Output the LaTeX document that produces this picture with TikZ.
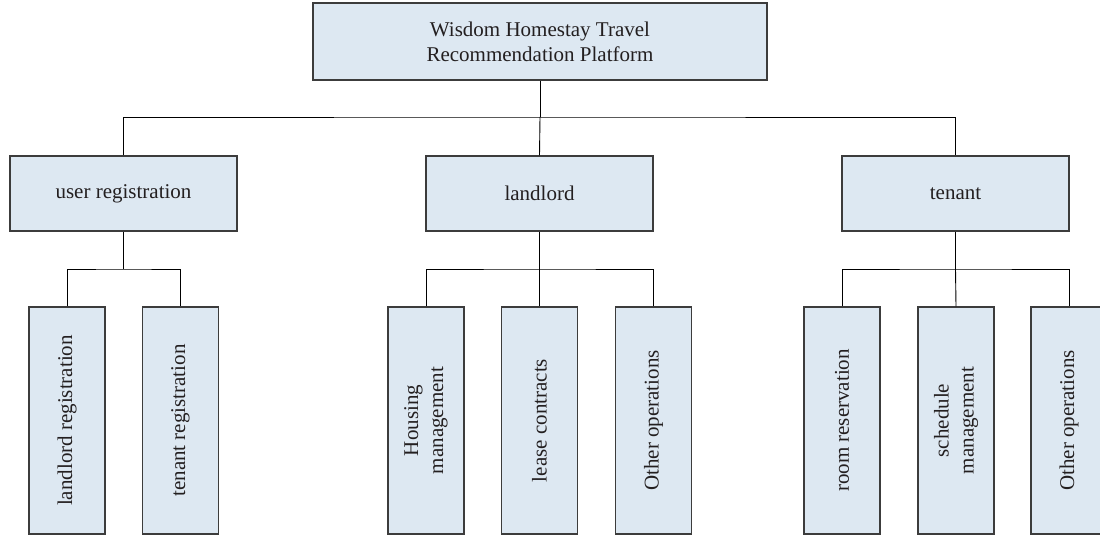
\documentclass[tikz,border=0pt]{standalone}
\usepackage{fontspec}
\setmainfont{Liberation Serif}
\definecolor{boxfill}{RGB}{221,232,242}
\definecolor{boxline}{RGB}{60,60,60}
\definecolor{txt}{RGB}{35,31,32}
\begin{document}
\begin{tikzpicture}[x=1pt,y=-1pt,
  font=\fontsize{21}{25}\selectfont,
  box/.style={draw=boxline,line width=1.2pt,fill=boxfill,text=txt,
    inner sep=0pt,align=center},
  topbox/.style={box,minimum width=454pt,minimum height=77pt},
  midbox/.style={box,minimum width=227pt,minimum height=75pt},
  leafbox/.style={box,minimum width=76pt,minimum height=227pt},
  vtext/.style={rotate=90,align=center,text=txt,inner sep=0pt},
  link/.style={draw=black,line width=0.9pt}]
\clip (0,0) rectangle (1100,537);
\fill[white] (0,0) rectangle (1100,537);

% root
\node[topbox] (root) at (540,41.5) {Wisdom Homestay Travel\\Recommendation Platform};

% second level
\node[midbox] (user) at (123.5,193.5) {user registration};
\node[midbox] (land) at (539.5,193.5) {landlord};
\node[midbox] (ten)  at (955.5,193.5) {tenant};

% leaves
\node[leafbox] (lreg) at (67,420.5) {};
\node[leafbox] (treg) at (180.5,420.5) {};
\node[leafbox] (hous) at (426,420.5) {};
\node[leafbox] (leas) at (539.5,420.5) {};
\node[leafbox] (oth1) at (653.5,420.5) {};
\node[leafbox] (room) at (842,420.5) {};
\node[leafbox] (sche) at (956,420.5) {};
\node[leafbox] (oth2) at (1069,420.5) {};

\node[vtext] at (lreg) {landlord registration};
\node[vtext] at (treg) {tenant registration};
\node[vtext] at (hous) {Housing\\management};
\node[vtext] at (leas) {lease contracts};
\node[vtext] at (oth1) {Other operations};
\node[vtext] at (room) {room reservation};
\node[vtext] at (sche) {schedule\\management};
\node[vtext] at (oth2) {Other operations};

% junction points of the connector buses
\coordinate (j0) at (540,117);
\coordinate (j1) at (123.5,269);
\coordinate (j2) at (539.5,269);
\coordinate (j3) at (955.5,269);

\draw[link] (root.south) -- (j0);
\draw[link] (user.north) |- (j0) -| (ten.north);
\draw[link] (j0) -- (land.north);

\draw[link] (user.south) -- (j1);
\draw[link] (lreg.north) |- (j1) -| (treg.north);

\draw[link] (land.south) -- (j2);
\draw[link] (hous.north) |- (j2) -| (oth1.north);
\draw[link] (j2) -- (leas.north);

\draw[link] (ten.south) -- (j3);
\draw[link] (room.north) |- (j3) -| (oth2.north);
\draw[link] (j3) -- (sche.north);
\end{tikzpicture}
\end{document}
